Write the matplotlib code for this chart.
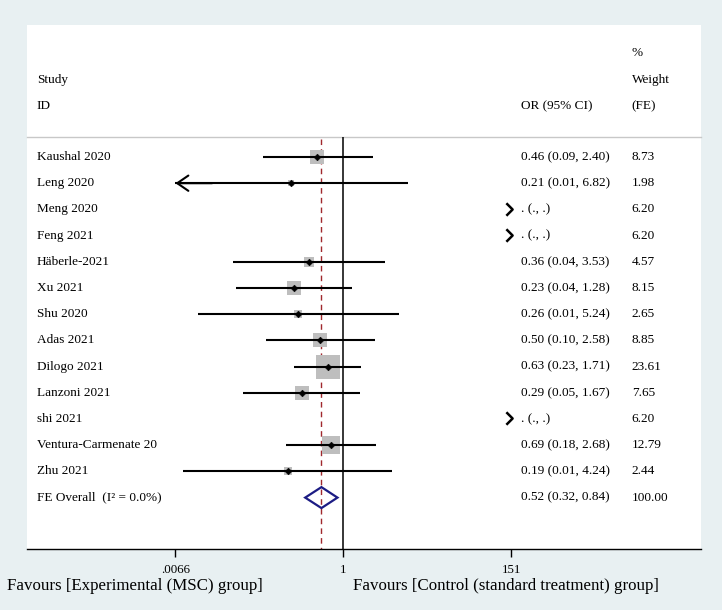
import numpy as np
from matplotlib import pyplot as plt
from matplotlib.path import Path
from matplotlib.patches import Polygon
from matplotlib.transforms import blended_transform_factory

plt.rcParams['font.family'] = ['Liberation Serif', 'DejaVu Serif']

studies = ['Kaushal 2020', 'Leng 2020', 'Meng 2020', 'Feng 2021', 'Häberle-2021',
           'Xu 2021', 'Shu 2020', 'Adas 2021', 'Dilogo 2021', 'Lanzoni 2021',
           'shi 2021', 'Ventura-Carmenate 20', 'Zhu 2021']
nan = np.nan
or_est = [0.46, 0.21, nan, nan, 0.36, 0.23, 0.26, 0.50, 0.63, 0.29, nan, 0.69, 0.19]
ci_low = [0.09, 0.006, nan, nan, 0.037, 0.04, 0.013, 0.10, 0.23, 0.05, nan, 0.18, 0.0083]
ci_high = [2.40, 6.82, nan, nan, 3.53, 1.28, 5.24, 2.58, 1.71, 1.67, nan, 2.68, 4.24]
weights = [8.73, 1.98, 6.20, 6.20, 4.57, 8.15, 2.65, 8.85, 23.61, 7.65, 6.20, 12.79, 2.44]
overall_label = 'FE Overall  (I² = 0.0%)'
overall = (0.52, 0.32, 0.84)
overall_weight = 100.00
tick_vals = [0.0066, 1, 151]
tick_labels = ['.0066', '1', '151']

W, H = 722, 610
fig = plt.figure(figsize=(W / 100, H / 100), dpi=100, facecolor='#E8F0F2')

# panel in pixels: x 27.3..700.7, y 25..549.3
px_l, px_r, px_t, px_b = 27.3, 700.7, 25.0, 549.3
ax = fig.add_axes([px_l / W, 1 - px_b / H, (px_r - px_l) / W, (px_b - px_t) / H])
ax.set_facecolor('white')
ax.set_xscale('log')
x_one, per_dec = 343.3, 77.0
ax.set_xlim(10 ** ((px_l - x_one) / per_dec), 10 ** ((px_r - x_one) / per_dec))
row0, row_h = 157.0, 26.2
y_top = (px_t - row0) / row_h
y_bot = (px_b - row0) / row_h
ax.set_ylim(y_bot, y_top)

for s in ('top', 'left', 'right'):
    ax.spines[s].set_visible(False)
ax.spines['bottom'].set_linewidth(1.0)
ax.set_yticks([])
ax.set_xticks(tick_vals)
ax.set_xticklabels(tick_labels)
ax.minorticks_off()
ax.tick_params(axis='x', length=6, width=1, pad=4.5, labelsize=9.4)

trans = blended_transform_factory(ax.transAxes, ax.transData)


def fx(px):
    return (px - px_l) / (px_r - px_l)


fs = 9.5
x_study, x_or, x_wt, x_chev = fx(36.7), fx(520.7), fx(631.7), fx(509)

# header
sep_y = (136.5 - row0) / row_h
ax.text(x_wt, -3.97, '%', transform=trans, fontsize=fs, va='center')
ax.text(x_study, -2.94, 'Study', transform=trans, fontsize=fs, va='center')
ax.text(x_wt, -2.94, 'Weight', transform=trans, fontsize=fs, va='center')
ax.text(x_study, -1.95, 'ID', transform=trans, fontsize=fs, va='center')
ax.text(x_or, -1.95, 'OR (95% CI)', transform=trans, fontsize=fs, va='center')
ax.text(x_wt, -1.95, '(FE)', transform=trans, fontsize=fs, va='center')
ax.plot([0, 1], [sep_y, sep_y], transform=trans, color='#C8C8C8', lw=1.0, clip_on=False)

# reference lines
ax.vlines(1, sep_y, y_bot, color='black', lw=1.1, zorder=2)
ax.vlines(overall[0], sep_y + 0.1, y_bot, color='#A0282D', lw=1.0,
          linestyles=(0, (4, 3)), zorder=2)

chev = Path([(-0.5, 1.0), (0.5, 0.0), (-0.5, -1.0)],
            [Path.MOVETO, Path.LINETO, Path.LINETO])
xmin_tick = tick_vals[0]
for i, name in enumerate(studies):
    ax.text(x_study, i, name, transform=trans, fontsize=fs, va='center')
    ax.text(x_wt, i, '%.2f' % weights[i], transform=trans, fontsize=fs, va='center')
    if np.isnan(or_est[i]):
        ax.text(x_or, i, '. (., .)', transform=trans, fontsize=fs, va='center')
        ax.plot([x_chev], [i - 0.02], transform=trans, marker=chev, ms=9,
                mfc='none', mec='black', mew=1.8, clip_on=False)
        continue
    ax.text(x_or, i, '%.2f (%.2f, %.2f)' % (or_est[i], ci_low[i], ci_high[i]),
            transform=trans, fontsize=fs, va='center')
    side = 24.0 * np.sqrt(weights[i] / max(weights)) * 0.72
    ax.scatter([or_est[i]], [i], marker='s', s=side ** 2, color='#BEBEBE',
               linewidths=0, zorder=3)
    lo = max(ci_low[i], xmin_tick)
    ax.plot([lo, ci_high[i]], [i, i], color='black', lw=1.5, zorder=4,
            solid_capstyle='butt')
    if ci_low[i] < xmin_tick:
        ax.annotate('', xy=(xmin_tick, i), xytext=(xmin_tick * 3, i),
                    arrowprops=dict(arrowstyle='->, head_length=0.8, head_width=0.55',
                                    lw=1.5, color='black', shrinkA=0, shrinkB=0),
                    zorder=4)
    ax.plot([or_est[i]], [i], marker='D', ms=3.4, mew=0.4, color='black', zorder=5)

# overall
n = len(studies)
ax.text(x_study, n, overall_label, transform=trans, fontsize=fs, va='center')
ax.text(x_or, n, '%.2f (%.2f, %.2f)' % overall, transform=trans, fontsize=fs, va='center')
ax.text(x_wt, n, '%.2f' % overall_weight, transform=trans, fontsize=fs, va='center')
dh = 0.4
diamond = Polygon([(overall[1], n), (overall[0], n - dh), (overall[2], n),
                   (overall[0], n + dh)], closed=True, facecolor='none',
                  edgecolor='#1C1C84', lw=1.6, zorder=4)
ax.add_patch(diamond)

fig.text(7 / W, 1 - 586 / H, 'Favours [Experimental (MSC) group]', fontsize=12.2, va='center')
fig.text(353 / W, 1 - 586 / H, 'Favours [Control (standard treatment) group]',
         fontsize=12.2, va='center')

fig.savefig('out.png', dpi=100, facecolor=fig.get_facecolor())
